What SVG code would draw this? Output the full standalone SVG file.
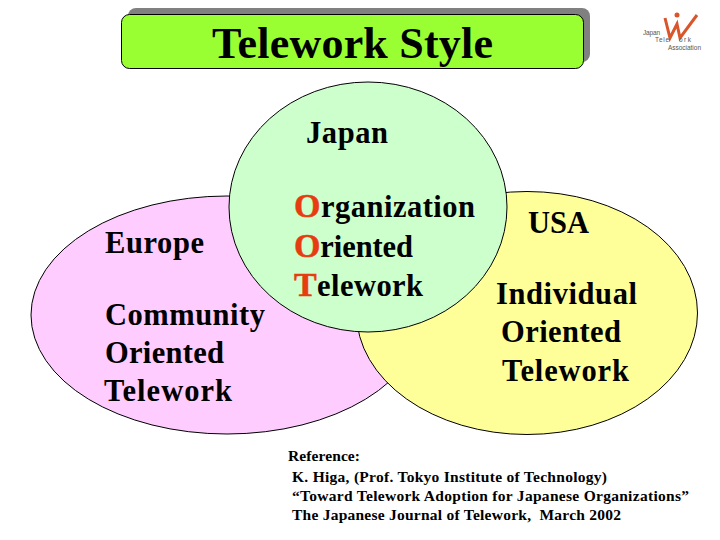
<svg xmlns="http://www.w3.org/2000/svg" width="720" height="540" viewBox="0 0 720 540">
<style>
text{font-family:"Liberation Serif","Times New Roman",serif;fill:#000}
.l{font-size:30.500px;font-weight:bold}
.a{font-size:34px;font-weight:bold;fill:#e63c10;stroke:#e63c10;stroke-width:.5}
.r{font-size:15.500px;font-weight:bold;white-space:pre}
.c{stroke:#000;stroke-width:1}
.logo{font-family:"Liberation Sans",Arial,sans-serif;font-size:6.500px;fill:#555}
</style>
<rect width="720" height="540" fill="#fff"/>
<g id="title">
<rect x="128" y="8" width="462" height="54" rx="8" fill="#808080"/>
<rect x="121.500" y="14.500" width="462" height="54" rx="8" fill="#99ff33" class="c"/>
<text x="212" y="58" font-size="44" font-weight="bold" textLength="281">Telework Style</text>
</g>
<g id="logo">
<path d="M665 18L670 38L677 24L680 38L697 15" fill="none" stroke="#d9552b" stroke-width="3"/>
<circle cx="677" cy="15" r="2.500" fill="#d9552b"/>
<text class="logo" x="643" y="35" textLength="17">Japan</text>
<text class="logo" x="655" y="42" textLength="14">Tele</text>
<text class="logo" x="679" y="42" textLength="12">ork</text>
<text class="logo" x="668" y="50" textLength="33">Association</text>
</g>
<g id="europe">
<ellipse cx="227" cy="315" rx="196" ry="119" fill="#ffccff" class="c"/>
<text class="l" x="105" y="253" textLength="99">Europe</text>
<text class="l" x="105" y="325" textLength="160">Community</text>
<text class="l" x="105" y="363" textLength="119">Oriented</text>
<text class="l" x="104" y="401" textLength="128">Telework</text>
</g>
<g id="usa">
<ellipse cx="527" cy="313" rx="170.500" ry="121.500" fill="#ffff99" class="c"/>
<text class="l" x="528" y="233" textLength="61">USA</text>
<text class="l" x="496" y="304" textLength="141">Individual</text>
<text class="l" x="501" y="342" textLength="120">Oriented</text>
<text class="l" x="502" y="381" textLength="127">Telework</text>
</g>
<g id="japan">
<ellipse cx="368" cy="207" rx="139" ry="125" fill="#ccffcc" class="c"/>
<text class="l" x="306" y="143" textLength="82">Japan</text>
<text class="l" x="294" y="217" textLength="181"><tspan class="a">O</tspan>rganization</text>
<text class="l" x="294" y="257" textLength="119"><tspan class="a">O</tspan>riented</text>
<text class="l" x="294" y="296" textLength="129"><tspan class="a">T</tspan>elework</text>
</g>
<g id="reference">
<text class="r" x="288" y="461" textLength="72">Reference:</text>
<text class="r" x="292" y="482" textLength="315">K. Higa, (Prof. Tokyo Institute of Technology)</text>
<text class="r" x="292" y="501" textLength="397">“Toward Telework Adoption for Japanese Organizations”</text>
<text class="r" x="292" y="520" textLength="329">The Japanese Journal of Telework,  March 2002</text>
</g>
</svg>
